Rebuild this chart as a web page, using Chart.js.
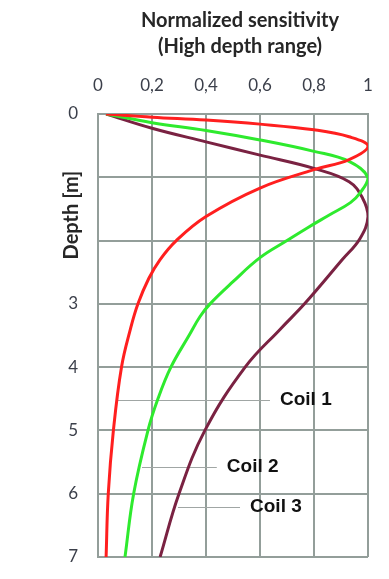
<!DOCTYPE html>
<html>
<head>
<meta charset="utf-8">
<script src="https://cdn.jsdelivr.net/npm/chart.js@4.4.1/dist/chart.umd.min.js"></script>
<style>
  html, body { margin: 0; padding: 0; background: #fff; overflow: hidden; }
  canvas { display: block; }
</style>
</head>
<body>
<canvas id="chart" width="389" height="579"></canvas>
<script>
// Depth [m] and normalized sensitivity
const coil1Depth = [0, 0.05, 0.095, 0.16, 0.25, 0.36, 0.51, 0.72, 0.88, 1.17, 1.62, 2.0, 2.3, 2.6, 3.0, 3.4, 4.0, 5.0, 6.0, 7.0];
const coil1Sens  = [0.03, 0.2, 0.4, 0.6, 0.8, 0.93, 1.0, 0.93, 0.8, 0.6, 0.4, 0.29, 0.23, 0.188, 0.148, 0.12, 0.087, 0.057, 0.038, 0.03];

const coil2Depth = [0, 0.137, 0.26, 0.41, 0.59, 0.75, 1.01, 1.25, 1.4, 1.6, 1.8, 2.0, 2.27, 2.65, 3.0, 3.2, 3.5, 4.0, 4.5, 5.0, 6.0, 7.0];
const coil2Sens  = [0.03, 0.2, 0.4, 0.6, 0.8, 0.93, 1.0, 0.97, 0.935, 0.855, 0.775, 0.7, 0.6, 0.5, 0.415, 0.378, 0.337, 0.27, 0.222, 0.185, 0.132, 0.1];

const coil3Depth = [0, 0.225, 0.44, 0.65, 0.86, 1.07, 1.33, 1.62, 1.97, 2.3, 3.0, 3.4, 4.0, 5.0, 6.0, 7.0];
const coil3Sens  = [0.03, 0.2, 0.4, 0.6, 0.8, 0.93, 0.98, 1.0, 0.97, 0.905, 0.765, 0.675, 0.545, 0.396, 0.3, 0.23];

const xTickLabels = ['0', '0,2', '0,4', '0,6', '0,8', '1'];
const yTickLabels = ['0', '', '', '3', '4', '5', '6', '7'];

// Callout labels: text, depth, leader start / end sensitivity
const coilNames    = ['Coil 1', 'Coil 2', 'Coil 3'];
const calloutDepth = [4.52, 5.57, 6.21];
const leaderFrom   = [0.07, 0.163, 0.296];
const leaderTo     = [0.637, 0.44, 0.526];

const toPoints = (depth, sens) => depth.map((d, i) => ({ x: sens[i], y: d }));

const GRID = '#939e9a';

const overlay = {
    id: 'overlay',
    beforeDatasetsDraw(chart) {
        const { ctx, scales: { x, y } } = chart;
        ctx.save();
        ctx.strokeStyle = '#a0a6a4';
        ctx.lineWidth = 1;
        coilNames.forEach((n, i) => {
            const py = Math.round(y.getPixelForValue(calloutDepth[i])) + 0.5;
            ctx.beginPath();
            ctx.moveTo(x.getPixelForValue(leaderFrom[i]), py);
            ctx.lineTo(x.getPixelForValue(leaderTo[i]), py);
            ctx.stroke();
        });
        ctx.restore();
    },
    afterDraw(chart) {
        const { ctx, scales: { x, y } } = chart;
        ctx.save();
        // callout texts
        ctx.fillStyle = '#111';
        ctx.font = "bold 19px 'Liberation Sans', Arial, sans-serif";
        ctx.textAlign = 'left';
        ctx.textBaseline = 'middle';
        coilNames.forEach((n, i) => {
            const px = x.getPixelForValue(leaderTo[i]) + 10;
            ctx.fillText(n, px, y.getPixelForValue(calloutDepth[i]));
        });
        // title
        ctx.fillStyle = '#262626';
        ctx.textAlign = 'center';
        ctx.font = "bold 20px Lato, 'Noto Sans', sans-serif";
        ctx.fillText('Normalized sensitivity', 240, 21);
        ctx.fillText('(High depth range)', 240, 47);
        // y axis title
        ctx.translate(72, 215);
        ctx.rotate(-Math.PI / 2);
        ctx.fillText('Depth [m]', 0, 0);
        ctx.restore();
    }
};

const lineStyle = { borderWidth: 3, tension: 0.4, pointRadius: 0, pointHoverRadius: 0, fill: false };
const tickFont = { family: "Lato, 'Noto Sans', sans-serif", size: 17 };
// invisible tick marks give the label gap without padding the chart area
const gridOpts = { color: GRID, lineWidth: 2, drawTicks: true, tickLength: 18, tickColor: 'rgba(0,0,0,0)' };

new Chart(document.getElementById('chart'), {
    type: 'line',
    data: {
        datasets: [
            { label: coilNames[0], data: toPoints(coil1Depth, coil1Sens), borderColor: '#ff1f1f', ...lineStyle },
            { label: coilNames[1], data: toPoints(coil2Depth, coil2Sens), borderColor: '#2eea2e', ...lineStyle },
            { label: coilNames[2], data: toPoints(coil3Depth, coil3Sens), borderColor: '#7a2242', ...lineStyle }
        ]
    },
    options: {
        responsive: false,
        animation: false,
        layout: { padding: { left: 0, top: 0, right: 21, bottom: 22 } },
        plugins: {
            legend: { display: false },
            tooltip: { enabled: false }
        },
        scales: {
            x: {
                type: 'linear',
                position: 'top',
                min: 0,
                max: 1,
                afterFit: s => { s.height = 114; },
                afterBuildTicks: s => {
                    s.ticks = xTickLabels.map((t, i) => ({ value: i * 0.2 }));
                },
                ticks: {
                    padding: 0,
                    color: '#3b3f4a',
                    font: tickFont,
                    maxRotation: 0,
                    callback: (v, i) => xTickLabels[i]
                },
                grid: gridOpts,
                border: { color: GRID, width: 2 }
            },
            y: {
                type: 'linear',
                reverse: true,
                min: 0,
                max: 7,
                afterFit: s => { s.width = 98; },
                ticks: {
                    stepSize: 1,
                    padding: 2,
                    color: '#3b3f4a',
                    font: tickFont,
                    callback: v => yTickLabels[Math.round(v)]
                },
                grid: gridOpts,
                border: { color: GRID, width: 2 }
            }
        }
    },
    plugins: [overlay]
});
</script>
</body>
</html>
